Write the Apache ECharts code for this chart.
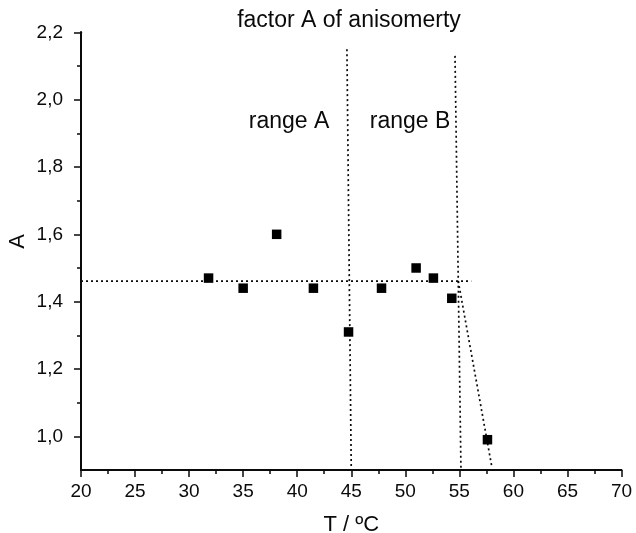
<!DOCTYPE html>
<html>
<head>
<meta charset="utf-8">
<script src="https://cdn.jsdelivr.net/npm/echarts@6/dist/echarts.min.js"></script>
<style>
html,body{margin:0;padding:0;background:#fff;}
#chart{width:636px;height:533px;}
</style>
</head>
<body>
<div id="chart"></div>
<script>
// Data
const temps   = [31.8, 35.0, 38.1, 41.5, 44.75, 47.8, 51.0, 52.6, 54.3, 57.6];
const factorA = [1.47, 1.44, 1.60, 1.44, 1.31, 1.44, 1.50, 1.47, 1.41, 0.99];

const meanLineT = [20, 56.1];
const meanLineA = [1.461, 1.461];
const boundaryAT = [44.6, 45.0];
const boundaryAA = [2.15, 0.9];
const boundaryBT = [54.6, 55.15];
const boundaryBA = [2.13, 0.9];
const dropT = [54.9, 58.0];
const dropA = [1.461, 0.91];

const xTickMin = 20, xTickMax = 70, xTickStep = 5;
const yMin = 0.9, yMax = 2.2, yLabelMin = 1.0, yTickStep = 0.2;

const titleText = 'factor A of anisomerty';
const rangeLabels = ['range A', 'range B'];
const xName = 'T / ºC';
const yName = 'A';

const FONT = '"Liberation Sans", Arial, sans-serif';
const INK = '#0a0a0a';
const zip = (xs, ys) => xs.map((x, i) => [x, ys[i]]);

const chart = echarts.init(document.getElementById('chart'), null, {renderer: 'canvas'});

const gridLeft = 81, gridWidth = 540.5, gridTop = 32.3, gridHeight = 437.7;
const grid2Height = gridHeight * (yMax - yLabelMin) / (yMax - yMin);

const dotted = (name, xs, ys) => ({
  name, type: 'line', xAxisIndex: 0, yAxisIndex: 0,
  data: zip(xs, ys), symbol: 'none', silent: true,
  lineStyle: {color: INK, width: 1.7, type: [2, 3]}
});

chart.setOption({
  backgroundColor: '#fff',
  animation: false,
  title: {
    text: titleText, left: 349, top: 9, textAlign: 'center', padding: 0,
    textStyle: {fontFamily: FONT, fontSize: 23, fontWeight: 'normal', color: INK}
  },
  grid: [
    {left: gridLeft, width: gridWidth, top: gridTop, height: gridHeight,
     containLabel: false, outerBoundsMode: 'none'},
    {left: gridLeft, width: gridWidth, top: gridTop, height: grid2Height,
     containLabel: false, outerBoundsMode: 'none'}
  ],
  xAxis: [
    {
      gridIndex: 0, type: 'value', min: xTickMin, max: xTickMax, interval: xTickStep,
      name: xName, nameLocation: 'middle', nameGap: 44,
      nameTextStyle: {fontFamily: FONT, fontSize: 22, color: INK},
      axisLine: {show: true, onZero: false, lineStyle: {color: INK, width: 2}},
      axisTick: {show: true, inside: false, length: 7, lineStyle: {color: INK, width: 1.5}},
      minorTick: {show: true, splitNumber: 2, length: 4, lineStyle: {color: INK, width: 1.5}},
      axisLabel: {fontFamily: FONT, fontSize: 19, color: INK, margin: 12},
      splitLine: {show: false}
    },
    {
      gridIndex: 1, type: 'value', min: xTickMin, max: xTickMax, show: false
    }
  ],
  yAxis: [
    {
      gridIndex: 0, type: 'value', min: yMin, max: yMax,
      axisLine: {show: true, onZero: false, lineStyle: {color: INK, width: 2}},
      axisTick: {show: false}, axisLabel: {show: false}, splitLine: {show: false}
    },
    {
      gridIndex: 1, type: 'value', min: yLabelMin, max: yMax, interval: yTickStep,
      axisLine: {show: true, onZero: false, lineStyle: {color: INK, width: 2}},
      axisTick: {show: true, inside: false, length: 7, lineStyle: {color: INK, width: 1.5}},
      minorTick: {show: true, splitNumber: 2, length: 4, lineStyle: {color: INK, width: 1.5}},
      axisLabel: {
        fontFamily: FONT, fontSize: 19, color: INK, margin: 18,
        formatter: v => v.toFixed(1).replace('.', ',')
      },
      splitLine: {show: false}
    }
  ],
  graphic: [
    {type: 'text', left: 7, top: 234, rotation: Math.PI / 2,
     style: {text: yName, font: '22px ' + FONT, fill: INK}},
    {type: 'text', x: 289, y: 122,
     style: {text: rangeLabels[0], font: '23px ' + FONT, fill: INK, align: 'center', verticalAlign: 'middle'}},
    {type: 'text', x: 410, y: 122,
     style: {text: rangeLabels[1], font: '23px ' + FONT, fill: INK, align: 'center', verticalAlign: 'middle'}}
  ],
  series: [
    dotted('mean', meanLineT, meanLineA),
    dotted('boundaryA', boundaryAT, boundaryAA),
    dotted('boundaryB', boundaryBT, boundaryBA),
    dotted('drop', dropT, dropA),
    {
      name: 'A', type: 'scatter', xAxisIndex: 0, yAxisIndex: 0,
      data: zip(temps, factorA), symbol: 'rect', symbolSize: 9.5,
      itemStyle: {color: '#000', opacity: 1}, z: 5
    }
  ]
});
</script>
</body>
</html>
